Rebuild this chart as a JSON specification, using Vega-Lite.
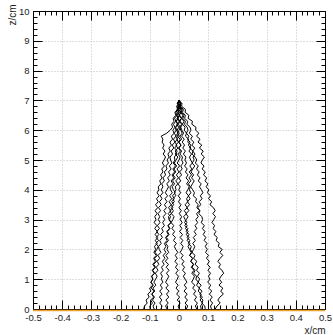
{
"$schema":"https://vega.github.io/schema/vega-lite/v6.json",
"width":292,"height":298,
"autosize":{"type":"none"},
"padding":{"left":33,"top":11,"right":8,"bottom":26},
"background":"white",
"config":{"view":{"stroke":null},"axis":{"labelFont":"Liberation Sans","titleFont":"Liberation Sans","labelFontSize":9.5,"titleFontSize":10,"labelColor":"#222","titleColor":"#222","titleFontWeight":"normal","domainColor":"black","tickColor":"black","domainWidth":1,"tickWidth":1}},
"data":{"values":[
{"t":1,"z":7,"x":0},{"t":1,"z":6.9,"x":0.010},{"t":1,"z":6.8,"x":0.009},{"t":1,"z":6.7,"x":0.022},{"t":1,"z":6.6,"x":0.021},{"t":1,"z":6.5,"x":0.034},{"t":1,"z":6.4,"x":0.031},{"t":1,"z":6.3,"x":0.046},{"t":1,"z":6.2,"x":0.044},{"t":1,"z":6.1,"x":0.058},{"t":1,"z":6,"x":0.057},
{"t":1,"z":5.9,"x":0.068},{"t":1,"z":5.8,"x":0.060},{"t":1,"z":5.7,"x":0.072},{"t":1,"z":5.6,"x":0.065},{"t":1,"z":5.5,"x":0.078},{"t":1,"z":5.4,"x":0.070},{"t":1,"z":5.3,"x":0.083},{"t":1,"z":5.2,"x":0.076},{"t":1,"z":5.1,"x":0.087},{"t":1,"z":5,"x":0.080},
{"t":1,"z":4.9,"x":0.075},{"t":1,"z":4.8,"x":0.086},{"t":1,"z":4.7,"x":0.079},{"t":1,"z":4.6,"x":0.090},{"t":1,"z":4.5,"x":0.084},{"t":1,"z":4.4,"x":0.095},{"t":1,"z":4.3,"x":0.089},{"t":1,"z":4.2,"x":0.099},{"t":1,"z":4.1,"x":0.093},{"t":1,"z":4,"x":0.102},
{"t":1,"z":3.9,"x":0.097},{"t":1,"z":3.8,"x":0.108},{"t":1,"z":3.7,"x":0.101},{"t":1,"z":3.6,"x":0.112},{"t":1,"z":3.5,"x":0.106},{"t":1,"z":3.4,"x":0.118},{"t":1,"z":3.3,"x":0.124},{"t":1,"z":3.2,"x":0.116},{"t":1,"z":3.1,"x":0.125},{"t":1,"z":3,"x":0.119},
{"t":1,"z":2.9,"x":0.113},{"t":1,"z":2.8,"x":0.122},{"t":1,"z":2.7,"x":0.117},{"t":1,"z":2.6,"x":0.126},{"t":1,"z":2.5,"x":0.120},{"t":1,"z":2.4,"x":0.131},{"t":1,"z":2.3,"x":0.127},{"t":1,"z":2.2,"x":0.138},{"t":1,"z":2.1,"x":0.134},{"t":1,"z":2,"x":0.148},
{"t":1,"z":1.9,"x":0.140},{"t":1,"z":1.8,"x":0.150},{"t":1,"z":1.7,"x":0.141},{"t":1,"z":1.6,"x":0.133},{"t":1,"z":1.5,"x":0.142},{"t":1,"z":1.4,"x":0.136},{"t":1,"z":1.3,"x":0.147},{"t":1,"z":1.2,"x":0.153},{"t":1,"z":1.1,"x":0.144},{"t":1,"z":1,"x":0.138},
{"t":1,"z":0.9,"x":0.146},{"t":1,"z":0.8,"x":0.137},{"t":1,"z":0.7,"x":0.150},{"t":1,"z":0.6,"x":0.143},{"t":1,"z":0.5,"x":0.152},{"t":1,"z":0.4,"x":0.140},{"t":1,"z":0.3,"x":0.133},{"t":1,"z":0.2,"x":0.141},{"t":1,"z":0.1,"x":0.130},{"t":1,"z":0,"x":0.124},
{"t":2,"z":7,"x":0},{"t":2,"z":6.9,"x":0.006},{"t":2,"z":6.8,"x":0.004},{"t":2,"z":6.7,"x":0.015},{"t":2,"z":6.6,"x":0.012},{"t":2,"z":6.5,"x":0.022},{"t":2,"z":6.4,"x":0.019},{"t":2,"z":6.3,"x":0.030},{"t":2,"z":6.2,"x":0.027},{"t":2,"z":6.1,"x":0.038},{"t":2,"z":6,"x":0.041},
{"t":2,"z":5.9,"x":0.035},{"t":2,"z":5.8,"x":0.046},{"t":2,"z":5.7,"x":0.040},{"t":2,"z":5.6,"x":0.051},{"t":2,"z":5.5,"x":0.044},{"t":2,"z":5.4,"x":0.054},{"t":2,"z":5.3,"x":0.047},{"t":2,"z":5.2,"x":0.055},{"t":2,"z":5.1,"x":0.048},{"t":2,"z":5,"x":0.052},
{"t":2,"z":4.9,"x":0.045},{"t":2,"z":4.8,"x":0.054},{"t":2,"z":4.7,"x":0.047},{"t":2,"z":4.6,"x":0.041},{"t":2,"z":4.5,"x":0.050},{"t":2,"z":4.4,"x":0.043},{"t":2,"z":4.3,"x":0.052},{"t":2,"z":4.2,"x":0.046},{"t":2,"z":4.1,"x":0.040},{"t":2,"z":4,"x":0.047},
{"t":2,"z":3.9,"x":0.053},{"t":2,"z":3.8,"x":0.049},{"t":2,"z":3.7,"x":0.060},{"t":2,"z":3.6,"x":0.057},{"t":2,"z":3.5,"x":0.066},{"t":2,"z":3.4,"x":0.061},{"t":2,"z":3.3,"x":0.072},{"t":2,"z":3.2,"x":0.068},{"t":2,"z":3.1,"x":0.078},{"t":2,"z":3,"x":0.081},
{"t":2,"z":2.9,"x":0.076},{"t":2,"z":2.8,"x":0.087},{"t":2,"z":2.7,"x":0.080},{"t":2,"z":2.6,"x":0.089},{"t":2,"z":2.5,"x":0.083},{"t":2,"z":2.4,"x":0.092},{"t":2,"z":2.3,"x":0.086},{"t":2,"z":2.2,"x":0.096},{"t":2,"z":2.1,"x":0.090},{"t":2,"z":2,"x":0.097},
{"t":2,"z":1.9,"x":0.091},{"t":2,"z":1.8,"x":0.101},{"t":2,"z":1.7,"x":0.094},{"t":2,"z":1.6,"x":0.104},{"t":2,"z":1.5,"x":0.097},{"t":2,"z":1.4,"x":0.107},{"t":2,"z":1.3,"x":0.099},{"t":2,"z":1.2,"x":0.108},{"t":2,"z":1.1,"x":0.101},{"t":2,"z":1,"x":0.106},
{"t":2,"z":0.9,"x":0.098},{"t":2,"z":0.8,"x":0.109},{"t":2,"z":0.7,"x":0.102},{"t":2,"z":0.6,"x":0.112},{"t":2,"z":0.5,"x":0.104},{"t":2,"z":0.4,"x":0.114},{"t":2,"z":0.3,"x":0.106},{"t":2,"z":0.2,"x":0.115},{"t":2,"z":0.1,"x":0.108},{"t":2,"z":0,"x":0.111},
{"t":3,"z":7,"x":0},{"t":3,"z":6.9,"x":0.004},{"t":3,"z":6.8,"x":-0.002},{"t":3,"z":6.7,"x":0.008},{"t":3,"z":6.6,"x":0.005},{"t":3,"z":6.5,"x":0.013},{"t":3,"z":6.4,"x":0.009},{"t":3,"z":6.3,"x":0.017},{"t":3,"z":6.2,"x":0.012},{"t":3,"z":6.1,"x":0.021},{"t":3,"z":6,"x":0.018},
{"t":3,"z":5.9,"x":0.026},{"t":3,"z":5.8,"x":0.022},{"t":3,"z":5.7,"x":0.033},{"t":3,"z":5.6,"x":0.030},{"t":3,"z":5.5,"x":0.041},{"t":3,"z":5.4,"x":0.036},{"t":3,"z":5.3,"x":0.048},{"t":3,"z":5.2,"x":0.045},{"t":3,"z":5.1,"x":0.055},{"t":3,"z":5,"x":0.061},
{"t":3,"z":4.9,"x":0.056},{"t":3,"z":4.8,"x":0.066},{"t":3,"z":4.7,"x":0.060},{"t":3,"z":4.6,"x":0.069},{"t":3,"z":4.5,"x":0.063},{"t":3,"z":4.4,"x":0.072},{"t":3,"z":4.3,"x":0.066},{"t":3,"z":4.2,"x":0.076},{"t":3,"z":4.1,"x":0.070},{"t":3,"z":4,"x":0.077},
{"t":3,"z":3.9,"x":0.082},{"t":3,"z":3.8,"x":0.073},{"t":3,"z":3.7,"x":0.079},{"t":3,"z":3.6,"x":0.069},{"t":3,"z":3.5,"x":0.075},{"t":3,"z":3.4,"x":0.064},{"t":3,"z":3.3,"x":0.071},{"t":3,"z":3.2,"x":0.060},{"t":3,"z":3.1,"x":0.066},{"t":3,"z":3,"x":0.058},
{"t":3,"z":2.9,"x":0.064},{"t":3,"z":2.8,"x":0.055},{"t":3,"z":2.7,"x":0.061},{"t":3,"z":2.6,"x":0.052},{"t":3,"z":2.5,"x":0.059},{"t":3,"z":2.4,"x":0.049},{"t":3,"z":2.3,"x":0.056},{"t":3,"z":2.2,"x":0.047},{"t":3,"z":2.1,"x":0.054},{"t":3,"z":2,"x":0.050},
{"t":3,"z":1.9,"x":0.044},{"t":3,"z":1.8,"x":0.055},{"t":3,"z":1.7,"x":0.050},{"t":3,"z":1.6,"x":0.061},{"t":3,"z":1.5,"x":0.055},{"t":3,"z":1.4,"x":0.066},{"t":3,"z":1.3,"x":0.060},{"t":3,"z":1.2,"x":0.070},{"t":3,"z":1.1,"x":0.063},{"t":3,"z":1,"x":0.071},
{"t":3,"z":0.9,"x":0.065},{"t":3,"z":0.8,"x":0.076},{"t":3,"z":0.7,"x":0.068},{"t":3,"z":0.6,"x":0.079},{"t":3,"z":0.5,"x":0.071},{"t":3,"z":0.4,"x":0.080},{"t":3,"z":0.3,"x":0.072},{"t":3,"z":0.2,"x":0.081},{"t":3,"z":0.1,"x":0.074},{"t":3,"z":0,"x":0.076},
{"t":4,"z":7,"x":0},{"t":4,"z":6.9,"x":-0.005},{"t":4,"z":6.8,"x":0.004},{"t":4,"z":6.7,"x":-0.002},{"t":4,"z":6.6,"x":0.007},{"t":4,"z":6.5,"x":0.001},{"t":4,"z":6.4,"x":0.009},{"t":4,"z":6.3,"x":0.003},{"t":4,"z":6.2,"x":0.012},{"t":4,"z":6.1,"x":0.006},{"t":4,"z":6,"x":0.010},
{"t":4,"z":5.9,"x":0.016},{"t":4,"z":5.8,"x":0.009},{"t":4,"z":5.7,"x":0.018},{"t":4,"z":5.6,"x":0.011},{"t":4,"z":5.5,"x":0.019},{"t":4,"z":5.4,"x":0.013},{"t":4,"z":5.3,"x":0.022},{"t":4,"z":5.2,"x":0.015},{"t":4,"z":5.1,"x":0.024},{"t":4,"z":5,"x":0.020},
{"t":4,"z":4.9,"x":0.026},{"t":4,"z":4.8,"x":0.019},{"t":4,"z":4.7,"x":0.028},{"t":4,"z":4.6,"x":0.022},{"t":4,"z":4.5,"x":0.031},{"t":4,"z":4.4,"x":0.024},{"t":4,"z":4.3,"x":0.033},{"t":4,"z":4.2,"x":0.026},{"t":4,"z":4.1,"x":0.035},{"t":4,"z":4,"x":0.030},
{"t":4,"z":3.9,"x":0.024},{"t":4,"z":3.8,"x":0.033},{"t":4,"z":3.7,"x":0.026},{"t":4,"z":3.6,"x":0.030},{"t":4,"z":3.5,"x":0.021},{"t":4,"z":3.4,"x":0.028},{"t":4,"z":3.3,"x":0.018},{"t":4,"z":3.2,"x":0.026},{"t":4,"z":3.1,"x":0.016},{"t":4,"z":3,"x":0.021},
{"t":4,"z":2.9,"x":0.027},{"t":4,"z":2.8,"x":0.020},{"t":4,"z":2.7,"x":0.030},{"t":4,"z":2.6,"x":0.025},{"t":4,"z":2.5,"x":0.034},{"t":4,"z":2.4,"x":0.028},{"t":4,"z":2.3,"x":0.037},{"t":4,"z":2.2,"x":0.032},{"t":4,"z":2.1,"x":0.042},{"t":4,"z":2,"x":0.039},
{"t":4,"z":1.9,"x":0.045},{"t":4,"z":1.8,"x":0.037},{"t":4,"z":1.7,"x":0.047},{"t":4,"z":1.6,"x":0.040},{"t":4,"z":1.5,"x":0.049},{"t":4,"z":1.4,"x":0.042},{"t":4,"z":1.3,"x":0.051},{"t":4,"z":1.2,"x":0.044},{"t":4,"z":1.1,"x":0.053},{"t":4,"z":1,"x":0.049},
{"t":4,"z":0.9,"x":0.043},{"t":4,"z":0.8,"x":0.054},{"t":4,"z":0.7,"x":0.047},{"t":4,"z":0.6,"x":0.057},{"t":4,"z":0.5,"x":0.050},{"t":4,"z":0.4,"x":0.060},{"t":4,"z":0.3,"x":0.053},{"t":4,"z":0.2,"x":0.063},{"t":4,"z":0.1,"x":0.056},{"t":4,"z":0,"x":0.061},
{"t":5,"z":7,"x":0},{"t":5,"z":6.9,"x":0.005},{"t":5,"z":6.8,"x":-0.003},{"t":5,"z":6.7,"x":0.004},{"t":5,"z":6.6,"x":-0.006},{"t":5,"z":6.5,"x":0.002},{"t":5,"z":6.4,"x":-0.007},{"t":5,"z":6.3,"x":0.001},{"t":5,"z":6.2,"x":-0.008},{"t":5,"z":6.1,"x":-0.001},{"t":5,"z":6,"x":-0.006},
{"t":5,"z":5.9,"x":0.001},{"t":5,"z":5.8,"x":-0.006},{"t":5,"z":5.7,"x":0.004},{"t":5,"z":5.6,"x":-0.002},{"t":5,"z":5.5,"x":0.007},{"t":5,"z":5.4,"x":0.000},{"t":5,"z":5.3,"x":0.009},{"t":5,"z":5.2,"x":0.003},{"t":5,"z":5.1,"x":0.012},{"t":5,"z":5,"x":0.009},
{"t":5,"z":4.9,"x":0.014},{"t":5,"z":4.8,"x":0.006},{"t":5,"z":4.7,"x":0.011},{"t":5,"z":4.6,"x":0.002},{"t":5,"z":4.5,"x":0.009},{"t":5,"z":4.4,"x":-0.001},{"t":5,"z":4.3,"x":0.006},{"t":5,"z":4.2,"x":-0.004},{"t":5,"z":4.1,"x":0.004},{"t":5,"z":4,"x":-0.001},
{"t":5,"z":3.9,"x":0.006},{"t":5,"z":3.8,"x":-0.003},{"t":5,"z":3.7,"x":0.005},{"t":5,"z":3.6,"x":-0.002},{"t":5,"z":3.5,"x":0.007},{"t":5,"z":3.4,"x":0.000},{"t":5,"z":3.3,"x":0.008},{"t":5,"z":3.2,"x":0.001},{"t":5,"z":3.1,"x":0.009},{"t":5,"z":3,"x":0.004},
{"t":5,"z":2.9,"x":0.011},{"t":5,"z":2.8,"x":0.003},{"t":5,"z":2.7,"x":0.010},{"t":5,"z":2.6,"x":0.002},{"t":5,"z":2.5,"x":0.012},{"t":5,"z":2.4,"x":0.004},{"t":5,"z":2.3,"x":0.013},{"t":5,"z":2.2,"x":0.006},{"t":5,"z":2.1,"x":0.014},{"t":5,"z":2,"x":0.010},
{"t":5,"z":1.9,"x":0.004},{"t":5,"z":1.8,"x":0.014},{"t":5,"z":1.7,"x":0.007},{"t":5,"z":1.6,"x":0.017},{"t":5,"z":1.5,"x":0.010},{"t":5,"z":1.4,"x":0.019},{"t":5,"z":1.3,"x":0.012},{"t":5,"z":1.2,"x":0.022},{"t":5,"z":1.1,"x":0.015},{"t":5,"z":1,"x":0.021},
{"t":5,"z":0.9,"x":0.027},{"t":5,"z":0.8,"x":0.018},{"t":5,"z":0.7,"x":0.026},{"t":5,"z":0.6,"x":0.017},{"t":5,"z":0.5,"x":0.028},{"t":5,"z":0.4,"x":0.020},{"t":5,"z":0.3,"x":0.029},{"t":5,"z":0.2,"x":0.021},{"t":5,"z":0.1,"x":0.030},{"t":5,"z":0,"x":0.025},
{"t":6,"z":7,"x":0},{"t":6,"z":6.9,"x":-0.004},{"t":6,"z":6.8,"x":0.003},{"t":6,"z":6.7,"x":-0.005},{"t":6,"z":6.6,"x":0.001},{"t":6,"z":6.5,"x":-0.007},{"t":6,"z":6.4,"x":-0.002},{"t":6,"z":6.3,"x":-0.009},{"t":6,"z":6.2,"x":-0.004},{"t":6,"z":6.1,"x":-0.011},{"t":6,"z":6,"x":-0.009},
{"t":6,"z":5.9,"x":-0.003},{"t":6,"z":5.8,"x":-0.012},{"t":6,"z":5.7,"x":-0.005},{"t":6,"z":5.6,"x":-0.014},{"t":6,"z":5.5,"x":-0.007},{"t":6,"z":5.4,"x":-0.015},{"t":6,"z":5.3,"x":-0.006},{"t":6,"z":5.2,"x":-0.013},{"t":6,"z":5.1,"x":-0.004},{"t":6,"z":5,"x":-0.010},
{"t":6,"z":4.9,"x":-0.016},{"t":6,"z":4.8,"x":-0.008},{"t":6,"z":4.7,"x":-0.017},{"t":6,"z":4.6,"x":-0.011},{"t":6,"z":4.5,"x":-0.020},{"t":6,"z":4.4,"x":-0.013},{"t":6,"z":4.3,"x":-0.022},{"t":6,"z":4.2,"x":-0.015},{"t":6,"z":4.1,"x":-0.024},{"t":6,"z":4,"x":-0.019},
{"t":6,"z":3.9,"x":-0.013},{"t":6,"z":3.8,"x":-0.022},{"t":6,"z":3.7,"x":-0.016},{"t":6,"z":3.6,"x":-0.025},{"t":6,"z":3.5,"x":-0.018},{"t":6,"z":3.4,"x":-0.027},{"t":6,"z":3.3,"x":-0.019},{"t":6,"z":3.2,"x":-0.026},{"t":6,"z":3.1,"x":-0.017},{"t":6,"z":3,"x":-0.021},
{"t":6,"z":2.9,"x":-0.027},{"t":6,"z":2.8,"x":-0.018},{"t":6,"z":2.7,"x":-0.024},{"t":6,"z":2.6,"x":-0.015},{"t":6,"z":2.5,"x":-0.022},{"t":6,"z":2.4,"x":-0.012},{"t":6,"z":2.3,"x":-0.019},{"t":6,"z":2.2,"x":-0.009},{"t":6,"z":2.1,"x":-0.016},{"t":6,"z":2,"x":-0.011},
{"t":6,"z":1.9,"x":-0.004},{"t":6,"z":1.8,"x":-0.013},{"t":6,"z":1.7,"x":-0.006},{"t":6,"z":1.6,"x":-0.014},{"t":6,"z":1.5,"x":-0.005},{"t":6,"z":1.4,"x":-0.012},{"t":6,"z":1.3,"x":-0.003},{"t":6,"z":1.2,"x":-0.011},{"t":6,"z":1.1,"x":-0.002},{"t":6,"z":1,"x":-0.006},
{"t":6,"z":0.9,"x":-0.012},{"t":6,"z":0.8,"x":-0.003},{"t":6,"z":0.7,"x":-0.010},{"t":6,"z":0.6,"x":-0.001},{"t":6,"z":0.5,"x":-0.008},{"t":6,"z":0.4,"x":0.002},{"t":6,"z":0.3,"x":-0.006},{"t":6,"z":0.2,"x":0.004},{"t":6,"z":0.1,"x":-0.003},{"t":6,"z":0,"x":0.001},
{"t":7,"z":7,"x":0},{"t":7,"z":6.9,"x":0.003},{"t":7,"z":6.8,"x":-0.006},{"t":7,"z":6.7,"x":-0.002},{"t":7,"z":6.6,"x":-0.011},{"t":7,"z":6.5,"x":-0.007},{"t":7,"z":6.4,"x":-0.015},{"t":7,"z":6.3,"x":-0.011},{"t":7,"z":6.2,"x":-0.019},{"t":7,"z":6.1,"x":-0.014},{"t":7,"z":6,"x":-0.021},
{"t":7,"z":5.9,"x":-0.017},{"t":7,"z":5.8,"x":-0.026},{"t":7,"z":5.7,"x":-0.022},{"t":7,"z":5.6,"x":-0.031},{"t":7,"z":5.5,"x":-0.026},{"t":7,"z":5.4,"x":-0.035},{"t":7,"z":5.3,"x":-0.030},{"t":7,"z":5.2,"x":-0.038},{"t":7,"z":5.1,"x":-0.034},{"t":7,"z":5,"x":-0.041},
{"t":7,"z":4.9,"x":-0.036},{"t":7,"z":4.8,"x":-0.045},{"t":7,"z":4.7,"x":-0.041},{"t":7,"z":4.6,"x":-0.050},{"t":7,"z":4.5,"x":-0.046},{"t":7,"z":4.4,"x":-0.055},{"t":7,"z":4.3,"x":-0.050},{"t":7,"z":4.2,"x":-0.059},{"t":7,"z":4.1,"x":-0.055},{"t":7,"z":4,"x":-0.061},
{"t":7,"z":3.9,"x":-0.055},{"t":7,"z":3.8,"x":-0.064},{"t":7,"z":3.7,"x":-0.058},{"t":7,"z":3.6,"x":-0.067},{"t":7,"z":3.5,"x":-0.061},{"t":7,"z":3.4,"x":-0.070},{"t":7,"z":3.3,"x":-0.063},{"t":7,"z":3.2,"x":-0.072},{"t":7,"z":3.1,"x":-0.066},{"t":7,"z":3,"x":-0.071},
{"t":7,"z":2.9,"x":-0.065},{"t":7,"z":2.8,"x":-0.074},{"t":7,"z":2.7,"x":-0.067},{"t":7,"z":2.6,"x":-0.076},{"t":7,"z":2.5,"x":-0.069},{"t":7,"z":2.4,"x":-0.078},{"t":7,"z":2.3,"x":-0.070},{"t":7,"z":2.2,"x":-0.079},{"t":7,"z":2.1,"x":-0.071},{"t":7,"z":2,"x":-0.076},
{"t":7,"z":1.9,"x":-0.082},{"t":7,"z":1.8,"x":-0.074},{"t":7,"z":1.7,"x":-0.084},{"t":7,"z":1.6,"x":-0.077},{"t":7,"z":1.5,"x":-0.087},{"t":7,"z":1.4,"x":-0.080},{"t":7,"z":1.3,"x":-0.090},{"t":7,"z":1.2,"x":-0.083},{"t":7,"z":1.1,"x":-0.093},{"t":7,"z":1,"x":-0.089},
{"t":7,"z":0.9,"x":-0.096},{"t":7,"z":0.8,"x":-0.090},{"t":7,"z":0.7,"x":-0.101},{"t":7,"z":0.6,"x":-0.096},{"t":7,"z":0.5,"x":-0.107},{"t":7,"z":0.4,"x":-0.102},{"t":7,"z":0.3,"x":-0.113},{"t":7,"z":0.2,"x":-0.109},{"t":7,"z":0.1,"x":-0.118},{"t":7,"z":0,"x":-0.121},
{"t":8,"z":7,"x":0},{"t":8,"z":6.9,"x":-0.006},{"t":8,"z":6.8,"x":0.002},{"t":8,"z":6.7,"x":-0.007},{"t":8,"z":6.6,"x":0.000},{"t":8,"z":6.5,"x":-0.009},{"t":8,"z":6.4,"x":-0.003},{"t":8,"z":6.3,"x":-0.011},{"t":8,"z":6.2,"x":-0.004},{"t":8,"z":6.1,"x":-0.012},{"t":8,"z":6,"x":-0.010},
{"t":8,"z":5.9,"x":-0.016},{"t":8,"z":5.8,"x":-0.010},{"t":8,"z":5.7,"x":-0.019},{"t":8,"z":5.6,"x":-0.014},{"t":8,"z":5.5,"x":-0.023},{"t":8,"z":5.4,"x":-0.018},{"t":8,"z":5.3,"x":-0.027},{"t":8,"z":5.2,"x":-0.022},{"t":8,"z":5.1,"x":-0.031},{"t":8,"z":5,"x":-0.029},
{"t":8,"z":4.9,"x":-0.024},{"t":8,"z":4.8,"x":-0.033},{"t":8,"z":4.7,"x":-0.027},{"t":8,"z":4.6,"x":-0.036},{"t":8,"z":4.5,"x":-0.030},{"t":8,"z":4.4,"x":-0.039},{"t":8,"z":4.3,"x":-0.033},{"t":8,"z":4.2,"x":-0.042},{"t":8,"z":4.1,"x":-0.036},{"t":8,"z":4,"x":-0.041},
{"t":8,"z":3.9,"x":-0.047},{"t":8,"z":3.8,"x":-0.039},{"t":8,"z":3.7,"x":-0.048},{"t":8,"z":3.6,"x":-0.041},{"t":8,"z":3.5,"x":-0.050},{"t":8,"z":3.4,"x":-0.043},{"t":8,"z":3.3,"x":-0.052},{"t":8,"z":3.2,"x":-0.045},{"t":8,"z":3.1,"x":-0.054},{"t":8,"z":3,"x":-0.049},
{"t":8,"z":2.9,"x":-0.056},{"t":8,"z":2.8,"x":-0.050},{"t":8,"z":2.7,"x":-0.059},{"t":8,"z":2.6,"x":-0.054},{"t":8,"z":2.5,"x":-0.063},{"t":8,"z":2.4,"x":-0.057},{"t":8,"z":2.3,"x":-0.066},{"t":8,"z":2.2,"x":-0.061},{"t":8,"z":2.1,"x":-0.070},{"t":8,"z":2,"x":-0.068},
{"t":8,"z":1.9,"x":-0.062},{"t":8,"z":1.8,"x":-0.072},{"t":8,"z":1.7,"x":-0.066},{"t":8,"z":1.6,"x":-0.075},{"t":8,"z":1.5,"x":-0.069},{"t":8,"z":1.4,"x":-0.078},{"t":8,"z":1.3,"x":-0.072},{"t":8,"z":1.2,"x":-0.081},{"t":8,"z":1.1,"x":-0.075},{"t":8,"z":1,"x":-0.080},
{"t":8,"z":0.9,"x":-0.086},{"t":8,"z":0.8,"x":-0.079},{"t":8,"z":0.7,"x":-0.089},{"t":8,"z":0.6,"x":-0.083},{"t":8,"z":0.5,"x":-0.093},{"t":8,"z":0.4,"x":-0.087},{"t":8,"z":0.3,"x":-0.097},{"t":8,"z":0.2,"x":-0.091},{"t":8,"z":0.1,"x":-0.100},{"t":8,"z":0,"x":-0.099},
{"t":9,"z":7,"x":0},{"t":9,"z":6.9,"x":-0.002},{"t":9,"z":6.8,"x":-0.008},{"t":9,"z":6.7,"x":-0.005},{"t":9,"z":6.6,"x":-0.014},{"t":9,"z":6.5,"x":-0.011},{"t":9,"z":6.4,"x":-0.020},{"t":9,"z":6.3,"x":-0.017},{"t":9,"z":6.2,"x":-0.025},{"t":9,"z":6.1,"x":-0.022},{"t":9,"z":6,"x":-0.030},
{"t":9,"z":5.9,"x":-0.042},{"t":9,"z":5.8,"x":-0.061},{"t":9,"z":5.7,"x":-0.055},{"t":9,"z":5.6,"x":-0.058},{"t":9,"z":5.5,"x":-0.051},{"t":9,"z":5.4,"x":-0.056},{"t":9,"z":5.3,"x":-0.048},{"t":9,"z":5.2,"x":-0.054},{"t":9,"z":5.1,"x":-0.046},{"t":9,"z":5,"x":-0.051},
{"t":9,"z":4.9,"x":-0.057},{"t":9,"z":4.8,"x":-0.050},{"t":9,"z":4.7,"x":-0.059},{"t":9,"z":4.6,"x":-0.055},{"t":9,"z":4.5,"x":-0.063},{"t":9,"z":4.4,"x":-0.058},{"t":9,"z":4.3,"x":-0.066},{"t":9,"z":4.2,"x":-0.062},{"t":9,"z":4.1,"x":-0.071},{"t":9,"z":4,"x":-0.069},
{"t":9,"z":3.9,"x":-0.075},{"t":9,"z":3.8,"x":-0.068},{"t":9,"z":3.7,"x":-0.077},{"t":9,"z":3.6,"x":-0.071},{"t":9,"z":3.5,"x":-0.080},{"t":9,"z":3.4,"x":-0.073},{"t":9,"z":3.3,"x":-0.082},{"t":9,"z":3.2,"x":-0.075},{"t":9,"z":3.1,"x":-0.083},{"t":9,"z":3,"x":-0.079},
{"t":9,"z":2.9,"x":-0.085},{"t":9,"z":2.8,"x":-0.076},{"t":9,"z":2.7,"x":-0.083},{"t":9,"z":2.6,"x":-0.074},{"t":9,"z":2.5,"x":-0.082},{"t":9,"z":2.4,"x":-0.073},{"t":9,"z":2.3,"x":-0.081},{"t":9,"z":2.2,"x":-0.075},{"t":9,"z":2.1,"x":-0.084},{"t":9,"z":2,"x":-0.080},
{"t":9,"z":1.9,"x":-0.086},{"t":9,"z":1.8,"x":-0.078},{"t":9,"z":1.7,"x":-0.087},{"t":9,"z":1.6,"x":-0.081},{"t":9,"z":1.5,"x":-0.090},{"t":9,"z":1.4,"x":-0.083},{"t":9,"z":1.3,"x":-0.092},{"t":9,"z":1.2,"x":-0.085},{"t":9,"z":1.1,"x":-0.094},{"t":9,"z":1,"x":-0.090},
{"t":9,"z":0.9,"x":-0.096},{"t":9,"z":0.8,"x":-0.088},{"t":9,"z":0.7,"x":-0.095},{"t":9,"z":0.6,"x":-0.086},{"t":9,"z":0.5,"x":-0.093},{"t":9,"z":0.4,"x":-0.084},{"t":9,"z":0.3,"x":-0.091},{"t":9,"z":0.2,"x":-0.082},{"t":9,"z":0.1,"x":-0.089},{"t":9,"z":0,"x":-0.085},
{"t":10,"z":7,"x":0},{"t":10,"z":6.9,"x":0.006},{"t":10,"z":6.8,"x":-0.002},{"t":10,"z":6.7,"x":0.005},{"t":10,"z":6.6,"x":-0.004},{"t":10,"z":6.5,"x":0.003},{"t":10,"z":6.4,"x":-0.005},{"t":10,"z":6.3,"x":0.004},{"t":10,"z":6.2,"x":-0.003},{"t":10,"z":6.1,"x":0.005},{"t":10,"z":6,"x":0.000},
{"t":10,"z":5.9,"x":-0.006},{"t":10,"z":5.8,"x":0.001},{"t":10,"z":5.7,"x":-0.008},{"t":10,"z":5.6,"x":-0.002},{"t":10,"z":5.5,"x":-0.011},{"t":10,"z":5.4,"x":-0.004},{"t":10,"z":5.3,"x":-0.013},{"t":10,"z":5.2,"x":-0.007},{"t":10,"z":5.1,"x":-0.016},{"t":10,"z":5,"x":-0.014},
{"t":10,"z":4.9,"x":-0.020},{"t":10,"z":4.8,"x":-0.012},{"t":10,"z":4.7,"x":-0.021},{"t":10,"z":4.6,"x":-0.015},{"t":10,"z":4.5,"x":-0.024},{"t":10,"z":4.4,"x":-0.018},{"t":10,"z":4.3,"x":-0.027},{"t":10,"z":4.2,"x":-0.021},{"t":10,"z":4.1,"x":-0.031},{"t":10,"z":4,"x":-0.029},
{"t":10,"z":3.9,"x":-0.023},{"t":10,"z":3.8,"x":-0.032},{"t":10,"z":3.7,"x":-0.025},{"t":10,"z":3.6,"x":-0.034},{"t":10,"z":3.5,"x":-0.027},{"t":10,"z":3.4,"x":-0.036},{"t":10,"z":3.3,"x":-0.028},{"t":10,"z":3.2,"x":-0.037},{"t":10,"z":3.1,"x":-0.029},{"t":10,"z":3,"x":-0.033},
{"t":10,"z":2.9,"x":-0.027},{"t":10,"z":2.8,"x":-0.038},{"t":10,"z":2.7,"x":-0.033},{"t":10,"z":2.6,"x":-0.042},{"t":10,"z":2.5,"x":-0.037},{"t":10,"z":2.4,"x":-0.046},{"t":10,"z":2.3,"x":-0.041},{"t":10,"z":2.2,"x":-0.050},{"t":10,"z":2.1,"x":-0.045},{"t":10,"z":2,"x":-0.051},
{"t":10,"z":1.9,"x":-0.045},{"t":10,"z":1.8,"x":-0.054},{"t":10,"z":1.7,"x":-0.048},{"t":10,"z":1.6,"x":-0.057},{"t":10,"z":1.5,"x":-0.051},{"t":10,"z":1.4,"x":-0.060},{"t":10,"z":1.3,"x":-0.054},{"t":10,"z":1.2,"x":-0.063},{"t":10,"z":1.1,"x":-0.057},{"t":10,"z":1,"x":-0.061},
{"t":10,"z":0.9,"x":-0.055},{"t":10,"z":0.8,"x":-0.064},{"t":10,"z":0.7,"x":-0.057},{"t":10,"z":0.6,"x":-0.066},{"t":10,"z":0.5,"x":-0.058},{"t":10,"z":0.4,"x":-0.067},{"t":10,"z":0.3,"x":-0.059},{"t":10,"z":0.2,"x":-0.066},{"t":10,"z":0.1,"x":-0.058},{"t":10,"z":0,"x":-0.062},
{"t":11,"z":7,"x":0},{"t":11,"z":6.9,"x":-0.003},{"t":11,"z":6.8,"x":0.005},{"t":11,"z":6.7,"x":-0.001},{"t":11,"z":6.6,"x":0.007},{"t":11,"z":6.5,"x":0.000},{"t":11,"z":6.4,"x":0.008},{"t":11,"z":6.3,"x":0.001},{"t":11,"z":6.2,"x":0.009},{"t":11,"z":6.1,"x":0.002},{"t":11,"z":6,"x":0.006},
{"t":11,"z":5.9,"x":0.011},{"t":11,"z":5.8,"x":0.003},{"t":11,"z":5.7,"x":0.009},{"t":11,"z":5.6,"x":0.000},{"t":11,"z":5.5,"x":0.007},{"t":11,"z":5.4,"x":-0.002},{"t":11,"z":5.3,"x":0.005},{"t":11,"z":5.2,"x":-0.004},{"t":11,"z":5.1,"x":0.004},{"t":11,"z":5,"x":0.000},
{"t":11,"z":4.9,"x":-0.006},{"t":11,"z":4.8,"x":0.002},{"t":11,"z":4.7,"x":-0.007},{"t":11,"z":4.6,"x":0.000},{"t":11,"z":4.5,"x":-0.009},{"t":11,"z":4.4,"x":-0.002},{"t":11,"z":4.3,"x":-0.011},{"t":11,"z":4.2,"x":-0.004},{"t":11,"z":4.1,"x":-0.013},{"t":11,"z":4,"x":-0.010},
{"t":11,"z":3.9,"x":-0.016},{"t":11,"z":3.8,"x":-0.011},{"t":11,"z":3.7,"x":-0.021},{"t":11,"z":3.6,"x":-0.016},{"t":11,"z":3.5,"x":-0.026},{"t":11,"z":3.4,"x":-0.021},{"t":11,"z":3.3,"x":-0.031},{"t":11,"z":3.2,"x":-0.026},{"t":11,"z":3.1,"x":-0.036},{"t":11,"z":3,"x":-0.034},
{"t":11,"z":2.9,"x":-0.028},{"t":11,"z":2.8,"x":-0.037},{"t":11,"z":2.7,"x":-0.031},{"t":11,"z":2.6,"x":-0.040},{"t":11,"z":2.5,"x":-0.034},{"t":11,"z":2.4,"x":-0.043},{"t":11,"z":2.3,"x":-0.036},{"t":11,"z":2.2,"x":-0.045},{"t":11,"z":2.1,"x":-0.038},{"t":11,"z":2,"x":-0.041},
{"t":11,"z":1.9,"x":-0.035},{"t":11,"z":1.8,"x":-0.045},{"t":11,"z":1.7,"x":-0.038},{"t":11,"z":1.6,"x":-0.047},{"t":11,"z":1.5,"x":-0.036},{"t":11,"z":1.4,"x":-0.044},{"t":11,"z":1.3,"x":-0.034},{"t":11,"z":1.2,"x":-0.043},{"t":11,"z":1.1,"x":-0.035},{"t":11,"z":1,"x":-0.040},
{"t":11,"z":0.9,"x":-0.046},{"t":11,"z":0.8,"x":-0.037},{"t":11,"z":0.7,"x":-0.045},{"t":11,"z":0.6,"x":-0.034},{"t":11,"z":0.5,"x":-0.043},{"t":11,"z":0.4,"x":-0.035},{"t":11,"z":0.3,"x":-0.045},{"t":11,"z":0.2,"x":-0.037},{"t":11,"z":0.1,"x":-0.046},{"t":11,"z":0,"x":-0.041},
{"t":12,"z":7,"x":0},{"t":12,"z":6.9,"x":0.007},{"t":12,"z":6.8,"x":0.002},{"t":12,"z":6.7,"x":0.011},{"t":12,"z":6.6,"x":0.008},{"t":12,"z":6.5,"x":0.017},{"t":12,"z":6.4,"x":0.013},{"t":12,"z":6.3,"x":0.022},{"t":12,"z":6.2,"x":0.019},{"t":12,"z":6.1,"x":0.028},{"t":12,"z":6,"x":0.031},
{"t":12,"z":5.9,"x":0.025},{"t":12,"z":5.8,"x":0.034},{"t":12,"z":5.7,"x":0.029},{"t":12,"z":5.6,"x":0.038},{"t":12,"z":5.5,"x":0.032},{"t":12,"z":5.4,"x":0.041},{"t":12,"z":5.3,"x":0.034},{"t":12,"z":5.2,"x":0.043},{"t":12,"z":5.1,"x":0.036},{"t":12,"z":5,"x":0.040},
{"t":12,"z":4.9,"x":0.046},{"t":12,"z":4.8,"x":0.037},{"t":12,"z":4.7,"x":0.044},{"t":12,"z":4.6,"x":0.035},{"t":12,"z":4.5,"x":0.043},{"t":12,"z":4.4,"x":0.034},{"t":12,"z":4.3,"x":0.041},{"t":12,"z":4.2,"x":0.032},{"t":12,"z":4.1,"x":0.039},{"t":12,"z":4,"x":0.035},
{"t":12,"z":3.9,"x":0.041},{"t":12,"z":3.8,"x":0.032},{"t":12,"z":3.7,"x":0.038},{"t":12,"z":3.6,"x":0.029},{"t":12,"z":3.5,"x":0.036},{"t":12,"z":3.4,"x":0.027},{"t":12,"z":3.3,"x":0.034},{"t":12,"z":3.2,"x":0.024},{"t":12,"z":3.1,"x":0.031},{"t":12,"z":3,"x":0.025},
{"t":12,"z":2.9,"x":0.019},{"t":12,"z":2.8,"x":0.028},{"t":12,"z":2.7,"x":0.022},{"t":12,"z":2.6,"x":0.031},{"t":12,"z":2.5,"x":0.025},{"t":12,"z":2.4,"x":0.034},{"t":12,"z":2.3,"x":0.028},{"t":12,"z":2.2,"x":0.037},{"t":12,"z":2.1,"x":0.031},{"t":12,"z":2,"x":0.036},
{"t":12,"z":1.9,"x":0.042},{"t":12,"z":1.8,"x":0.036},{"t":12,"z":1.7,"x":0.046},{"t":12,"z":1.6,"x":0.041},{"t":12,"z":1.5,"x":0.050},{"t":12,"z":1.4,"x":0.045},{"t":12,"z":1.3,"x":0.055},{"t":12,"z":1.2,"x":0.050},{"t":12,"z":1.1,"x":0.060},{"t":12,"z":1,"x":0.058},
{"t":12,"z":0.9,"x":0.066},{"t":12,"z":0.8,"x":0.060},{"t":12,"z":0.7,"x":0.070},{"t":12,"z":0.6,"x":0.066},{"t":12,"z":0.5,"x":0.076},{"t":12,"z":0.4,"x":0.072},{"t":12,"z":0.3,"x":0.082},{"t":12,"z":0.2,"x":0.078},{"t":12,"z":0.1,"x":0.088},{"t":12,"z":0,"x":0.090}
]},
"layer":[
{"mark":{"type":"line","color":"black","strokeWidth":1},
 "encoding":{
  "x":{"field":"x","type":"quantitative","scale":{"domain":[-0.5,0.5],"nice":false,"zero":false},
   "axis":{"orient":"bottom","values":[-0.5,-0.48,-0.46,-0.44,-0.42,-0.4,-0.38,-0.36,-0.34,-0.32,-0.3,-0.28,-0.26,-0.24,-0.22,-0.2,-0.18,-0.16,-0.14,-0.12,-0.1,-0.08,-0.06,-0.04,-0.02,0,0.02,0.04,0.06,0.08,0.1,0.12,0.14,0.16,0.18,0.2,0.22,0.24,0.26,0.28,0.3,0.32,0.34,0.36,0.38,0.4,0.42,0.44,0.46,0.48,0.5],
    "tickSize":{"condition":{"test":"abs(datum.value*10-round(datum.value*10))<0.001","value":-9},"value":-4},
    "labelExpr":"abs(datum.value*10-round(datum.value*10))<0.001 ? replace(format(datum.value,'.1~f'),'\u2212','-') : ''",
    "labelOverlap":false,"labelFlush":false,"labelPadding":12,"labelBound":false,
    "grid":true,"gridDash":[1,2],"gridColor":{"condition":{"test":"abs(datum.value*10-round(datum.value*10))<0.001","value":"#bdbdbd"},"value":"transparent"},
    "title":"x/cm","titleAnchor":"end","titleAlign":"right","titleX":292,"titleY":24,"titleBaseline":"alphabetic"}},
  "y":{"field":"z","type":"quantitative","scale":{"domain":[0,10],"nice":false,"zero":false},
   "axis":{"orient":"left","values":[0,0.2,0.4,0.6,0.8,1,1.2,1.4,1.6,1.8,2,2.2,2.4,2.6,2.8,3,3.2,3.4,3.6,3.8,4,4.2,4.4,4.6,4.8,5,5.2,5.4,5.6,5.8,6,6.2,6.4,6.6,6.8,7,7.2,7.4,7.6,7.8,8,8.2,8.4,8.6,8.8,9,9.2,9.4,9.6,9.8,10],
    "tickSize":{"condition":{"test":"abs(datum.value-round(datum.value))<0.001","value":-9},"value":-4},
    "labelExpr":"abs(datum.value-round(datum.value))<0.001 ? format(datum.value,'d') : ''",
    "labelOverlap":false,"labelFlush":false,"labelPadding":13,"labelBound":false,
    "grid":true,"gridDash":[1,2],"gridColor":{"condition":{"test":"abs(datum.value-round(datum.value))<0.001","value":"#bdbdbd"},"value":"transparent"},
    "title":"z/cm","titleAngle":-90,"titleAnchor":"end","titleAlign":"right","titleX":-21,"titleY":-7,"titleBaseline":"middle"}},
  "detail":{"field":"t"},
  "order":{"field":"z","type":"quantitative"}
 }},
{"mark":{"type":"point","opacity":0},
 "encoding":{
  "x":{"field":"x","type":"quantitative",
   "axis":{"orient":"top","values":[-0.5,-0.48,-0.46,-0.44,-0.42,-0.4,-0.38,-0.36,-0.34,-0.32,-0.3,-0.28,-0.26,-0.24,-0.22,-0.2,-0.18,-0.16,-0.14,-0.12,-0.1,-0.08,-0.06,-0.04,-0.02,0,0.02,0.04,0.06,0.08,0.1,0.12,0.14,0.16,0.18,0.2,0.22,0.24,0.26,0.28,0.3,0.32,0.34,0.36,0.38,0.4,0.42,0.44,0.46,0.48,0.5],
    "tickSize":{"condition":{"test":"abs(datum.value*10-round(datum.value*10))<0.001","value":-9},"value":-4},
    "labels":false,"grid":false,"title":null}},
  "y":{"field":"z","type":"quantitative",
   "axis":{"orient":"right","values":[0,0.2,0.4,0.6,0.8,1,1.2,1.4,1.6,1.8,2,2.2,2.4,2.6,2.8,3,3.2,3.4,3.6,3.8,4,4.2,4.4,4.6,4.8,5,5.2,5.4,5.6,5.8,6,6.2,6.4,6.6,6.8,7,7.2,7.4,7.6,7.8,8,8.2,8.4,8.6,8.8,9,9.2,9.4,9.6,9.8,10],
    "tickSize":{"condition":{"test":"abs(datum.value-round(datum.value))<0.001","value":-9},"value":-4},
    "labels":false,"grid":false,"title":null}}
 }},
{"data":{"values":[{"z":0}]},
 "mark":{"type":"rule","color":"#f0a030","strokeWidth":1.5,"yOffset":1.5},
 "encoding":{"y":{"field":"z","type":"quantitative","axis":null}}}
],
"resolve":{"axis":{"x":"independent","y":"independent"}}
}
